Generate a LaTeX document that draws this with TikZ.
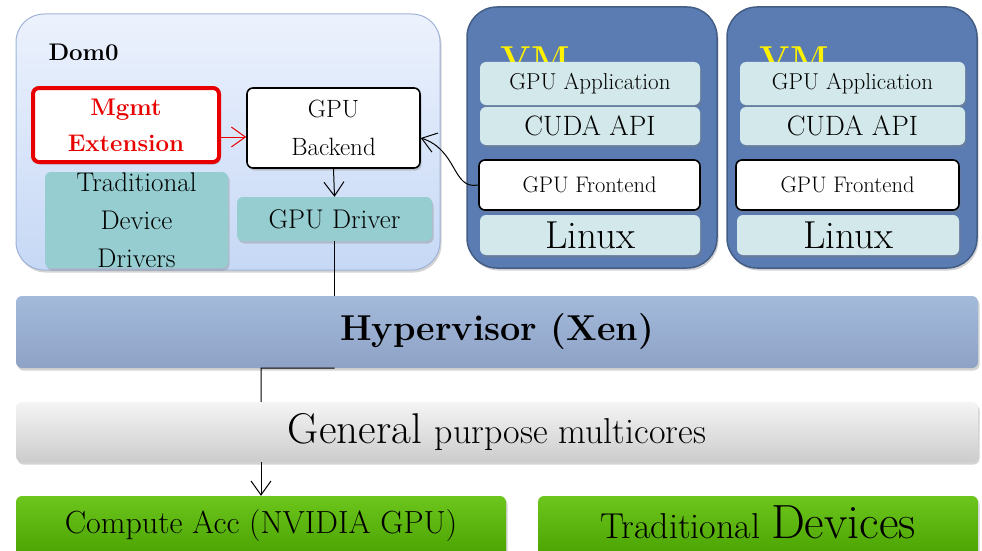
\documentclass[tikz,border=0pt]{standalone}
\usepackage{fontspec}
\usetikzlibrary{arrows.meta,shadows}

\definecolor{domtop}{HTML}{ECF2FD}
\definecolor{dombot}{HTML}{C6D8F5}
\definecolor{domline}{HTML}{9FB3D6}
\definecolor{tealfill}{HTML}{95CDD0}
\definecolor{vmblue}{HTML}{5A7CB2}
\definecolor{vmlight}{HTML}{D3E8EA}
\definecolor{hyptop}{HTML}{A4BADB}
\definecolor{hypbot}{HTML}{8DA2C5}
\definecolor{greentop}{HTML}{6CC61C}
\definecolor{greenbot}{HTML}{49A000}
\definecolor{mgmtred}{HTML}{E80000}

\tikzset{
  shade box/.style={drop shadow={shadow xshift=1.5pt,shadow yshift=-2.5pt,opacity=.35}},
  layer/.style={rounded corners=6pt, inner sep=0pt, shade box},
  tealbox/.style={layer, fill=tealfill},
  vmlayer/.style={layer, fill=vmlight},
  whitebox/.style={layer, draw=black, line width=1.6pt, fill=white},
  barb/.style={-{Straight Barb[length=14pt,width=20pt]}, line width=1pt},
  fs/.style={font=\fontsize{#1}{38}\selectfont},
  fsb/.style={font=\fontsize{#1}{36}\selectfont\bfseries}
}

\begin{document}
\begin{tikzpicture}[x=1pt,y=-1pt]
\useasboundingbox (0,0) rectangle (982,551);

% Dom0
\node[rounded corners=28pt, draw=domline, line width=1pt, top color=domtop, bottom color=dombot,
      minimum width=424, minimum height=256, shade box] (dom0) at (228,142) {};
\node[fsb=24, anchor=base west] (domlabel) at (45,60) {Dom0};

\node[layer, draw=mgmtred, line width=4pt, fill=white, fsb=24, text=mgmtred, align=center,
      minimum width=186, minimum height=74] (mgmt) at (126,125) {Mgmt\\Extension};
\node[whitebox, fs=25, align=center, minimum width=173, minimum height=80] (backend) at (333.5,128) {GPU\\Backend};
\node[tealbox, minimum width=183, minimum height=96,
      label={[fs=27, align=center]center:Traditional\\Device\\Drivers}] (tdd) at (136.5,220) {};
\node[tealbox, fs=27, minimum width=195, minimum height=44] (driver) at (334.5,219) {GPU Driver};

\draw[barb, draw=mgmtred] ([yshift=-12pt]mgmt.east) -- ([yshift=-12pt]mgmt.east -| backend.west);
\draw[barb] (backend.south) -- (driver.north);

% VMs
\node[rounded corners=30pt, fill=vmblue, draw=vmblue!75!black, line width=1.5pt,
      minimum width=250, minimum height=261, shade box] (vm1) at (592,137.5) {};
\node[rounded corners=30pt, fill=vmblue, draw=vmblue!75!black, line width=1.5pt,
      minimum width=250, minimum height=261, shade box] (vm2) at (852,137.5) {};
\node[fsb=36, text=yellow, anchor=base west] (vmlabel1) at (497,71) {\addfontfeature{FakeBold=2.5}VM};
\node[fsb=36, text=yellow, anchor=base west] (vmlabel2) at (756,71) {\addfontfeature{FakeBold=2.5}VM};

\node[vmlayer, fs=23, minimum width=220, minimum height=43] (app1) at (590,83.5) {GPU Application};
\node[vmlayer, fs=28, minimum width=220, minimum height=38] (cuda1) at (590,126) {CUDA API};
\node[whitebox, fs=22.5, minimum width=221, minimum height=50] (fe1) at (589.5,185) {GPU Frontend};
\node[vmlayer, fs=39, minimum width=220, minimum height=40] (linux1) at (590,235) {Linux};

\node[vmlayer, fs=23, minimum width=225, minimum height=43] (app2) at (852.5,83.5) {GPU Application};
\node[vmlayer, fs=28, minimum width=225, minimum height=38] (cuda2) at (852.5,126) {CUDA API};
\node[whitebox, fs=22.5, minimum width=223, minimum height=50] (fe2) at (847.5,185) {GPU Frontend};
\node[vmlayer, fs=39, minimum width=222, minimum height=40] (linux2) at (848,235) {Linux};

\draw[barb] (fe1.west) .. controls (452,190) and (458,150) .. ([yshift=-10pt]backend.east);

% hardware layers
\node[layer, top color=hyptop, bottom color=hypbot, fsb=36, minimum width=962, minimum height=72] (hyp) at (497,332) {Hypervisor (Xen)};
\node[layer, top color=white!96!black, bottom color=white!80!black, minimum width=962, minimum height=60] (multi) at (497,432)
      {\fontsize{43}{43}\selectfont General\ \fontsize{36}{36}\selectfont purpose multicores};
\node[layer, top color=greentop, bottom color=greenbot, minimum width=490, minimum height=64,
      label={[fs=32, yshift=2pt]center:Compute Acc (NVIDIA GPU)}] (comp) at (261,528) {};
\node[layer, top color=greentop, bottom color=greenbot, minimum width=440, minimum height=64,
      label={[yshift=6pt]center:{\fontsize{36}{36}\selectfont Traditional\ \fontsize{48}{48}\selectfont Devices}}] (tdev) at (758,528) {};

\coordinate (tap) at (261,368);
\draw[line width=1pt] (driver.south) -- (driver.south |- hyp.north);
\draw[line width=1pt] (driver.south |- hyp.south) -- (tap) -- (tap |- multi.north);
\draw[barb] (tap |- multi.south) -- (tap |- comp.north);
\end{tikzpicture}
\end{document}
